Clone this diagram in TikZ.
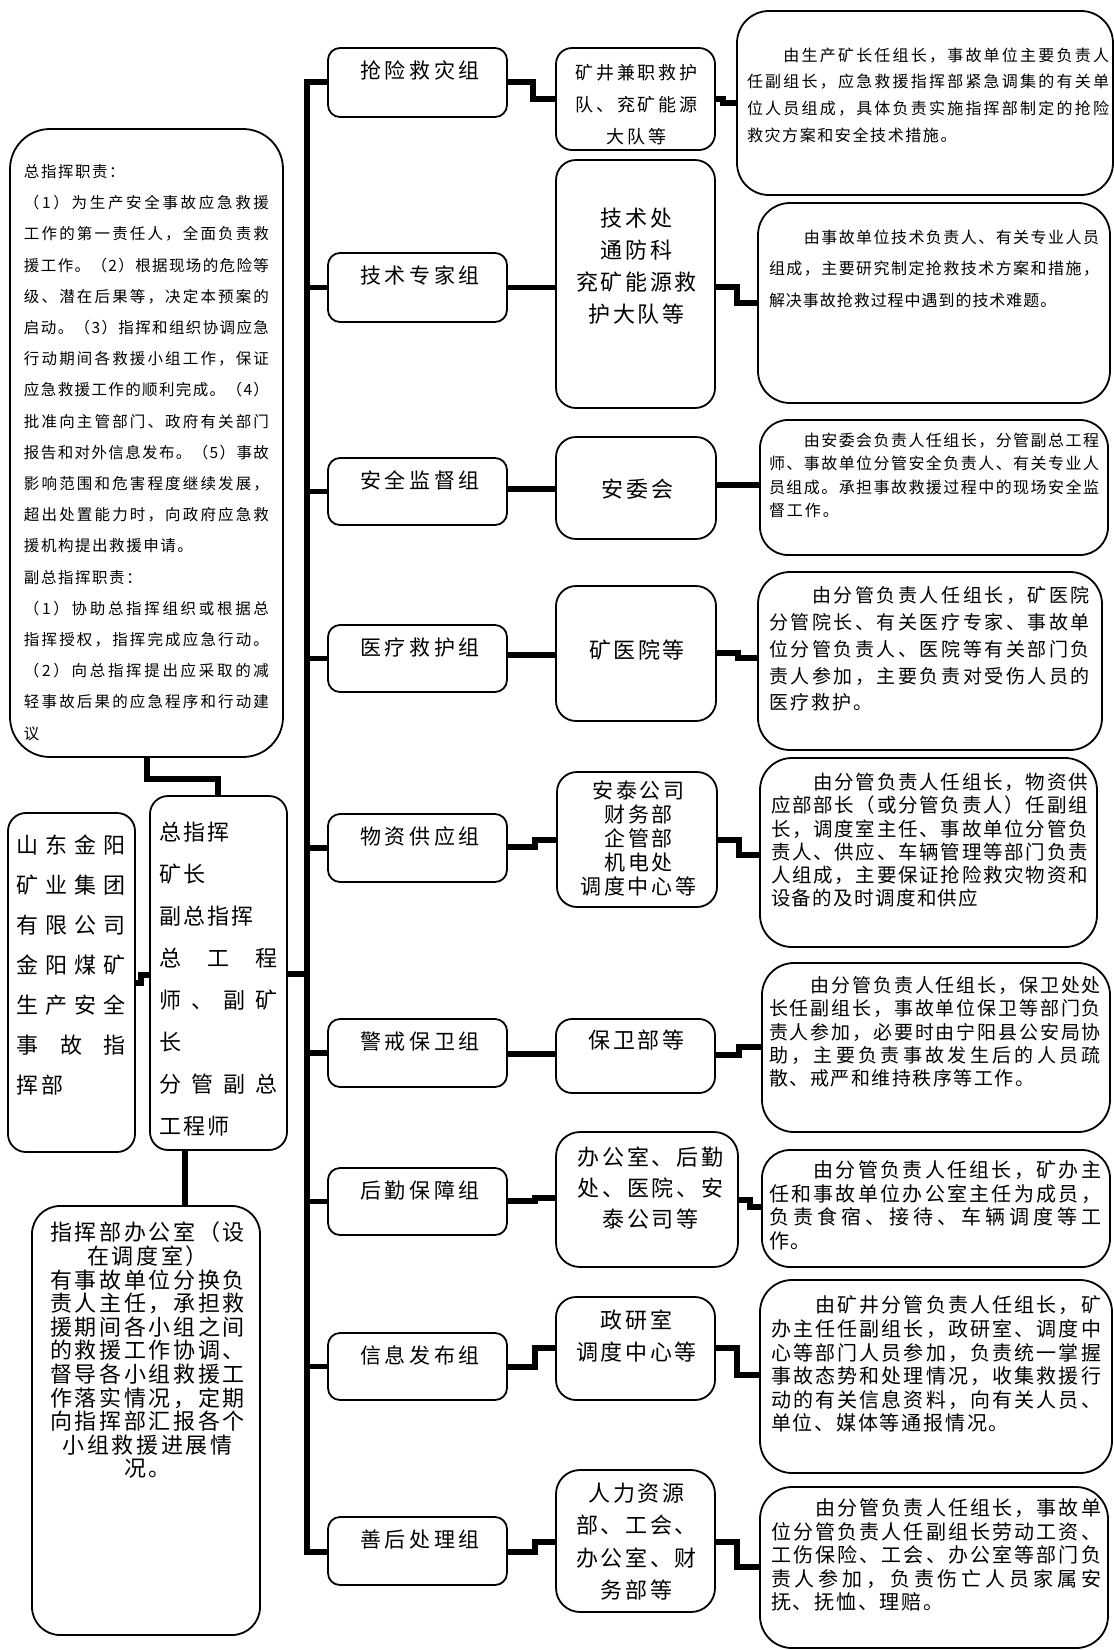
\documentclass[tikz,border=0pt]{standalone}
\usepackage{fontspec}
\setmainfont{Noto Sans CJK SC}
\usetikzlibrary{fit}
\makeatletter
\def\jl#1#2{\makebox[#1][s]{\jl@a#2\relax}}
\def\jl@a#1{#1\jl@b}
\def\jl@b#1{\ifx#1\relax\else\hskip0pt plus 1fil minus 1pt#1\expandafter\jl@b\fi}
\makeatother
\newcommand\fz[3]{\fontsize{#1}{#2}\selectfont\addfontfeature{LetterSpace=#3}}
\tikzset{
 box/.style={draw, line width=0.9pt, inner sep=0pt, outer sep=0pt, rounded corners=#1},
 box/.default=6pt,
 conn/.style={line width=2.8pt},
 tl/.style={inner sep=0pt, outer sep=0pt, anchor=north west, align=left},
 tc/.style={inner sep=0pt, outer sep=0pt, anchor=north, align=center},
 grp/.style={tc, font={\fz{10.5pt}{12pt}{17}}},
}
\begin{document}
\begin{tikzpicture}[x=0.5pt,y=-0.5pt]
\useasboundingbox (0,0) rectangle (1114,1650);

% ---------- left column ----------
\node[box=20pt, fit={(10,129) (283,757)}] (duty) {};
\node[tl, font={\fz{7.75pt}{15.6pt}{10}}] (dutyt) at (24,164.5) {总指挥职责：\\
\jl{122.5pt}{（1）为生产安全事故应急救援}\\
\jl{122.5pt}{工作的第一责任人，全面负责救}\\
\jl{122.5pt}{援工作。（2）根据现场的危险等}\\
\jl{122.5pt}{级、潜在后果等，决定本预案的}\\
\jl{122.5pt}{启动。（3）指挥和组织协调应急}\\
\jl{122.5pt}{行动期间各救援小组工作，保证}\\
\jl{122.5pt}{应急救援工作的顺利完成。（4）}\\
\jl{122.5pt}{批准向主管部门、政府有关部门}\\
\jl{122.5pt}{报告和对外信息发布。（5）事故}\\
\jl{122.5pt}{影响范围和危害程度继续发展，}\\
\jl{122.5pt}{超出处置能力时，向政府应急救}\\
援机构提出救援申请。\\
副总指挥职责：\\
\jl{122.5pt}{（1）协助总指挥组织或根据总}\\
\jl{122.5pt}{指挥授权，指挥完成应急行动。}\\
\jl{122.5pt}{（2）向总指挥提出应采取的减}\\
\jl{122.5pt}{轻事故后果的应急程序和行动建}\\
议};

\node[box=9pt, fit={(8,813) (135,1152)}] (sd) {};
\node[tl, font={\fz{11pt}{20pt}{10}}] (sdt) at (17,835) {\jl{54.5pt}{山东金阳}\\
\jl{54.5pt}{矿业集团}\\
\jl{54.5pt}{有限公司}\\
\jl{54.5pt}{金阳煤矿}\\
\jl{54.5pt}{生产安全}\\
\jl{54.5pt}{事故指}\\
挥部};

\node[box=9pt, fit={(150,796) (287,1150)}] (zhi) {};
\node[tl, font={\fz{11pt}{21pt}{10}}] (zhit) at (159,822) {总指挥\\
矿长\\
副总指挥\\
\jl{59.5pt}{总工程}\\
\jl{59.5pt}{师、副矿}\\
长\\
\jl{59.5pt}{分管副总}\\
工程师};

\node[box=14pt, fit={(32,1206) (260,1635)}] (off) {};
\node[tc, font={\fz{11pt}{11.8pt}{12}}] (offt) at (147.5,1222) {指挥部办公室（设\\
在调度室）\\
有事故单位分换负\\
责人主任，承担救\\
援期间各小组之间\\
的救援工作协调、\\
督导各小组救援工\\
作落实情况，定期\\
向指挥部汇报各个\\
小组救援进展情\\
况。};

% ---------- group column ----------
\node[box, fit={(328,48) (507,117)}] (g1) {};
\node[box, fit={(328,253) (507,322)}] (g2) {};
\node[box, fit={(328,458) (507,525)}] (g3) {};
\node[box, fit={(328,625) (507,692)}] (g4) {};
\node[box, fit={(328,814) (507,882)}] (g5) {};
\node[box, fit={(328,1019) (507,1087)}] (g6) {};
\node[box, fit={(328,1168) (507,1235)}] (g7) {};
\node[box, fit={(328,1333) (507,1400)}] (g8) {};
\node[box, fit={(328,1517) (507,1585)}] (g9) {};
\node[grp] (g1t) at (420,60.5) {抢险救灾组};
\node[grp] (g2t) at (420,265.5) {技术专家组};
\node[grp] (g3t) at (420,470.5) {安全监督组};
\node[grp] (g4t) at (420,637.5) {医疗救护组};
\node[grp] (g5t) at (420,826.5) {物资供应组};
\node[grp] (g6t) at (420,1031.5) {警戒保卫组};
\node[grp] (g7t) at (420,1180.5) {后勤保障组};
\node[grp] (g8t) at (420,1345.5) {信息发布组};
\node[grp] (g9t) at (420,1529.5) {善后处理组};

% ---------- middle column ----------
\node[box=8pt, fit={(556,48) (715,150)}] (m1) {};
\node[box=10pt, fit={(556,160) (715,408)}] (m2) {};
\node[box=10pt, fit={(556,437) (716,539)}] (m3) {};
\node[box=10pt, fit={(556,586) (716,721)}] (m4) {};
\node[box=10pt, fit={(557,772) (717,907)}] (m5) {};
\node[box=8pt, fit={(556,1019) (715,1093)}] (m6) {};
\node[box=12pt, fit={(556,1132) (738,1267)}] (m7) {};
\node[box=10pt, fit={(556,1297) (715,1400)}] (m8) {};
\node[box=12pt, fit={(556,1470) (715,1612)}] (m9) {};
\node[tc, font={\fz{9pt}{16pt}{15}}] (m1t) at (636.5,64) {矿井兼职救护\\队、兖矿能源\\大队等};
\node[tc, font={\fz{11pt}{16pt}{12}}] (m2t) at (636.5,208) {技术处\\通防科\\兖矿能源救\\护大队等};
\node[tc, font={\fz{11pt}{16pt}{12}}] (m3t) at (637.5,479) {安委会};
\node[tc, font={\fz{11pt}{16pt}{12}}] (m4t) at (637,640) {矿医院等};
\node[tc, font={\fz{10.5pt}{12pt}{14}}] (m5t) at (638.5,780.5) {安泰公司\\财务部\\企管部\\机电处\\调度中心等};
\node[tc, font={\fz{11pt}{16pt}{12}}] (m6t) at (636.5,1030) {保卫部等};
\node[tc, font={\fz{11pt}{15.5pt}{12}}] (m7t) at (650.5,1147) {办公室、后勤\\处、医院、安\\泰公司等};
\node[tc, font={\fz{11pt}{16pt}{12}}] (m8t) at (636.5,1310) {政研室\\调度中心等};
\node[tc, font={\fz{11pt}{16.2pt}{12}}] (m9t) at (636.5,1483) {人力资源\\部、工会、\\办公室、财\\务部等};

% ---------- description column ----------
\node[box=16pt, fit={(737,11) (1113,195)}] (d1) {};
\node[box=16pt, fit={(758,203) (1110,403)}] (d2) {};
\node[box=14pt, fit={(760,420) (1108,555)}] (d3) {};
\node[box=16pt, fit={(758,572) (1102,750)}] (d4) {};
\node[box=16pt, fit={(760,758) (1097,947)}] (d5) {};
\node[box=16pt, fit={(762,963) (1110,1132)}] (d6) {};
\node[box=14pt, fit={(762,1150) (1110,1267)}] (d7) {};
\node[box=16pt, fit={(760,1280) (1112,1473)}] (d8) {};
\node[box=16pt, fit={(760,1487) (1108,1648)}] (d9) {};

\node[tl, font={\fz{8pt}{13.35pt}{10}}] (d1t) at (747,47.5) {\jl{181pt}{　　由生产矿长任组长，事故单位主要负责人}\\
\jl{181pt}{任副组长，应急救援指挥部紧急调集的有关单}\\
\jl{181pt}{位人员组成，具体负责实施指挥部制定的抢险}\\
救灾方案和安全技术措施。};

\node[tl, font={\fz{8pt}{15.75pt}{6}}] (d2t) at (769,229.5) {\jl{165pt}{　　由事故单位技术负责人、有关专业人员}\\
\jl{165pt}{组成，主要研究制定抢救技术方案和措施，}\\
解决事故抢救过程中遇到的技术难题。};

\node[tl, font={\fz{8pt}{11.75pt}{12}}] (d3t) at (769,432.5) {\jl{165pt}{　　由安委会负责人任组长，分管副总工程}\\
\jl{165pt}{师、事故单位分管安全负责人、有关专业人}\\
\jl{165pt}{员组成。承担事故救援过程中的现场安全监}\\
督工作。};

\node[tl, font={\fz{9.5pt}{13.4pt}{11}}] (d4t) at (769,586.5) {\jl{160.5pt}{　　由分管负责人任组长，矿医院}\\
\jl{160.5pt}{分管院长、有关医疗专家、事故单}\\
\jl{160.5pt}{位分管负责人、医院等有关部门负}\\
\jl{160.5pt}{责人参加，主要负责对受伤人员的}\\
医疗救护。};

\node[tl, font={\fz{9.75pt}{11.65pt}{7}}] (d5t) at (771,773) {\jl{158.5pt}{　　由分管负责人任组长，物资供}\\
\jl{158.5pt}{应部部长（或分管负责人）任副组}\\
\jl{158.5pt}{长，调度室主任、事故单位分管负}\\
\jl{158.5pt}{责人、供应、车辆管理等部门负责}\\
\jl{158.5pt}{人组成，主要保证抢险救灾物资和}\\
设备的及时调度和供应};

\node[tl, font={\fz{9.5pt}{11.65pt}{8}}] (d6t) at (769,976.5) {\jl{166pt}{　　由分管负责人任组长，保卫处处}\\
\jl{166pt}{长任副组长，事故单位保卫等部门负}\\
\jl{166pt}{责人参加，必要时由宁阳县公安局协}\\
\jl{166pt}{助，主要负责事故发生后的人员疏}\\
散、戒严和维持秩序等工作。};

\node[tl, font={\fz{10pt}{11.75pt}{9}}] (d7t) at (769,1161) {\jl{166pt}{　　由分管负责人任组长，矿办主}\\
\jl{166pt}{任和事故单位办公室主任为成员，}\\
\jl{166pt}{负责食宿、接待、车辆调度等工}\\
作。};

\node[tl, font={\fz{10pt}{11.8pt}{9}}] (d8t) at (771,1296) {\jl{165pt}{　　由矿井分管负责人任组长，矿}\\
\jl{165pt}{办主任任副组长，政研室、调度中}\\
\jl{165pt}{心等部门人员参加，负责统一掌握}\\
\jl{165pt}{事故态势和处理情况，收集救援行}\\
\jl{165pt}{动的有关信息资料，向有关人员、}\\
单位、媒体等通报情况。};

\node[tl, font={\fz{10pt}{11.75pt}{9}}] (d9t) at (771,1499) {\jl{165pt}{　　由分管负责人任组长，事故单}\\
\jl{165pt}{位分管负责人任副组长劳动工资、}\\
\jl{165pt}{工伤保险、工会、办公室等部门负}\\
\jl{165pt}{责人参加，负责伤亡人员家属安}\\
抚、抚恤、理赔。};

% ---------- connectors ----------
\draw[conn] (g1.west |- 0,82) -| (307,1552) -- (g9.west |- 0,1552);
\foreach \g in {g2,g3,g4,g5,g6,g7,g8}{\draw[conn] (\g.west) -- (\g.west -| 307,0);}
\draw[conn] (zhi.east |- 0,974) -- (307,974);

\draw[conn] (g1.east |- 0,82) -- (533,82) |- (m1.west |- 0,99);
\draw[conn] (g2.east) -- (m2.west |- g2.east);
\draw[conn] (g3.east |- 0,489) -- (m3.west |- 0,489);
\draw[conn] (g4.east |- 0,655) -- (m4.west |- 0,655);
\draw[conn] (g5.east |- 0,847) -- (535,847) |- (m5.west |- 0,840);
\draw[conn] (g6.east |- 0,1054) -- (m6.west |- 0,1054);
\draw[conn] (g7.east |- 0,1201) -- (535,1201) |- (m7.west |- 0,1198);
\draw[conn] (g8.east |- 0,1367) -- (535,1367) |- (m8.west |- 0,1348);
\draw[conn] (g9.east |- 0,1552) -- (535,1552) |- (m9.west |- 0,1542);

\draw[conn] (m1.east |- 0,99) -- (723,99) |- (d1.west |- 0,103);
\draw[conn] (m2.east |- 0,287) -- (737,287) |- (d2.west |- 0,303);
\draw[conn] (m3.east |- 0,485) -- (d3.west |- 0,485);
\draw[conn] (m4.east |- 0,653) -- (738,653) |- (d4.west |- 0,658);
\draw[conn] (m5.east |- 0,840) -- (739,840) |- (d5.west |- 0,855);
\draw[conn] (m6.east |- 0,1055) -- (739,1055) |- (d6.west |- 0,1047);
\draw[conn] (m7.east |- 0,1200) -- (750,1200) |- (d7.west |- 0,1207);
\draw[conn] (m8.east |- 0,1348) -- (737,1348) |- (d8.west |- 0,1375);
\draw[conn] (m9.east |- 0,1542) -- (737,1542) |- (d9.west |- 0,1567);

\draw[conn] (duty.south -| 147,0) -- (147,779) -| (zhi.north -| 218,0);
\draw[conn] (sd.east |- 0,983) -- (141,983) |- (zhi.west |- 0,975);
\draw[conn] (zhi.south -| 185,0) -- (off.north -| 185,0);
\end{tikzpicture}
\end{document}
